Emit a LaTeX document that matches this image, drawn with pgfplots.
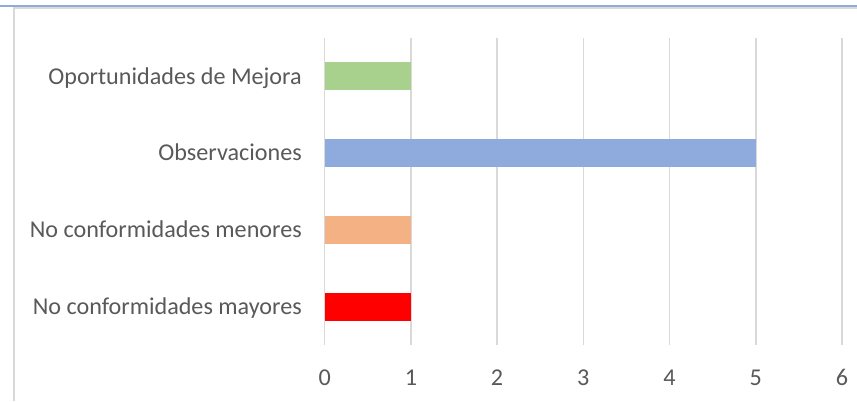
\documentclass[border=0pt]{standalone}
\usepackage{pgfplots}
\pgfplotsset{compat=1.18}
\usepackage{fontspec}
\setmainfont{Carlito}
\definecolor{txt}{HTML}{595959}
\definecolor{gridc}{HTML}{D9D9D9}
\definecolor{topblue}{HTML}{8FAADC}
\definecolor{cgreen}{HTML}{A9D18E}
\definecolor{cblue}{HTML}{8FAADC}
\definecolor{corange}{HTML}{F4B183}
\definecolor{cred}{HTML}{FF0000}
\begin{document}
\begin{tikzpicture}
\path[use as bounding box, fill=white] (0,0) rectangle (642.75pt,300.75pt);
\draw[gridc, line width=1.5pt] (10.275pt,0pt) -- (10.275pt,294.5pt) -- (642.75pt,294.5pt);
\draw[topblue, line width=1.75pt] (0pt,296.1pt) -- (642.75pt,296.1pt);
\begin{axis}[
  at={(243.5pt,42pt)}, anchor=south west,
  scale only axis, width=388pt, height=230.25pt,
  xbar, bar width=21pt, bar shift=0pt,
  xmin=0, xmax=6, ymin=-0.5, ymax=3.5,
  xtick={0,1,2,3,4,5,6},
  ytick={0,1,2,3},
  yticklabels={No conformidades mayores, No conformidades menores, Observaciones, Oportunidades de Mejora},
  axis line style={draw=none},
  major tick length=0pt,
  xmajorgrids, grid style={gridc, line width=1.1pt},
  /pgf/number format/assume math mode=true,
  tick label style={font=\fontsize{18.1}{21}\selectfont, text=txt, inner sep=0pt},
  xticklabel style={anchor=base, yshift=-30pt},
  yticklabel style={anchor=base east, xshift=-17pt, yshift=-5.8pt},
]
\addplot[draw=none, fill=cred] coordinates {(1,0)};
\addplot[draw=none, fill=corange] coordinates {(1,1)};
\addplot[draw=none, fill=cblue] coordinates {(5,2)};
\addplot[draw=none, fill=cgreen] coordinates {(1,3)};
\end{axis}
\end{tikzpicture}
\end{document}
